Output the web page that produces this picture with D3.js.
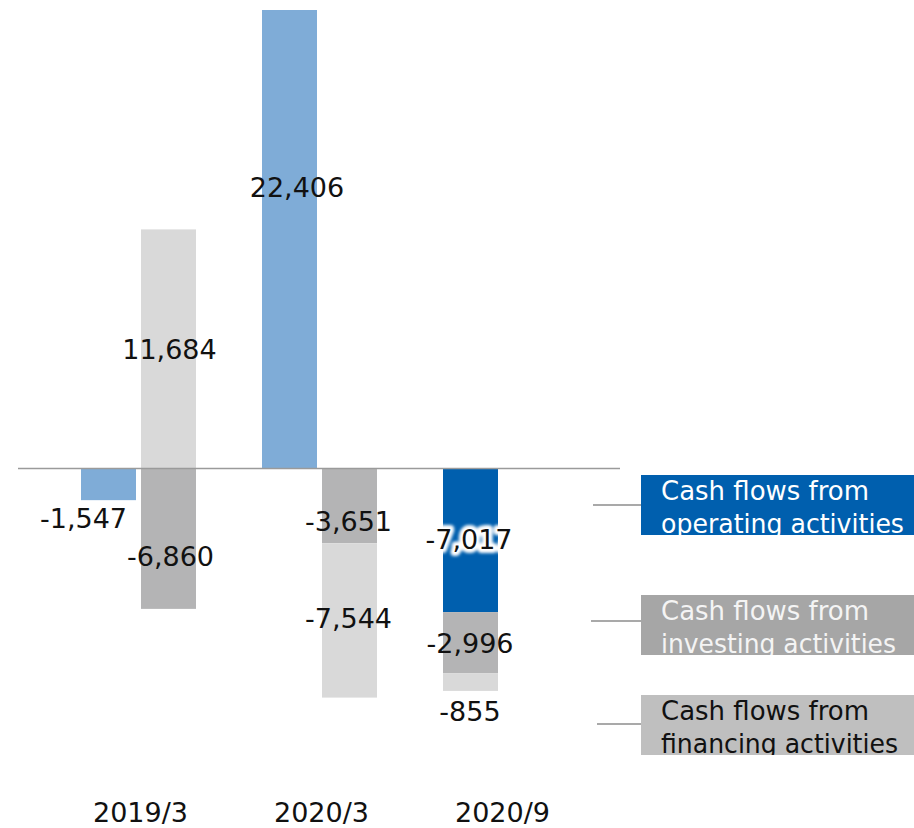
<!DOCTYPE html>
<html>
<head>
<meta charset="utf-8">
<script src="https://cdn.jsdelivr.net/npm/d3@7"></script>
<style>
  html, body { margin: 0; padding: 0; background: #fff; }
  svg { display: block; font-family: "DejaVu Sans", Verdana, sans-serif; }
</style>
</head>
<body>
<svg id="chart" width="914" height="828"></svg>
<script>
// Periods and cash-flow series (millions of yen)
const periods = ["2019/3", "2020/3", "2020/9"];
const operating = [-1547, 22406, -7017];
const investing = [-6860, -3651, -2996];
const financing = [11684, -7544, -855];

const seriesNames = ["Cash flows from operating activities",
                     "Cash flows from investing activities",
                     "Cash flows from financing activities"];
const legendLines = [["Cash flows from", "operating activities"],
                     ["Cash flows from", "investing activities"],
                     ["Cash flows from", "financing activities"]];

// Column each series sits in, per period ("a" = left slot, "b" = right slot)
const slotOperating = ["a", "a", "a"];
const slotInvesting = ["b", "b", "a"];
const slotFinancing = ["b", "b", "a"];

const colors = {
  operating: "#7facd7",
  operatingLatest: "#005fae",
  investing: "#b4b4b5",
  financing: "#d9d9d9",
  legendOperating: "#005fae",
  legendInvesting: "#a6a6a6",
  legendFinancing: "#bfbfbf"
};

const svg = d3.select("#chart");
const defs = svg.append("defs");

// Scales
const y = d3.scaleLinear().domain([0, 22406]).range([468.5, 10]);
const x = d3.scaleBand().domain(periods).range([81, 558]).paddingInner(66 / 181).paddingOuter(0);
const xs = d3.scaleBand().domain(["a", "b"]).range([0, x.bandwidth()]).paddingInner(5 / 60);

// Stack the series inside each column (positives up, negatives down)
const series = [
  { key: "operating", values: operating, slots: slotOperating },
  { key: "investing", values: investing, slots: slotInvesting },
  { key: "financing", values: financing, slots: slotFinancing }
];
const bars = [];
periods.forEach((p, i) => {
  const pos = {}, neg = {};
  series.forEach(s => {
    const slot = s.slots[i];
    const v = s.values[i];
    pos[slot] = pos[slot] || 0; neg[slot] = neg[slot] || 0;
    let y0, y1;
    if (v >= 0) { y0 = pos[slot]; y1 = pos[slot] + v; pos[slot] = y1; }
    else { y0 = neg[slot]; y1 = neg[slot] + v; neg[slot] = y1; }
    bars.push({ period: p, index: i, key: s.key, slot, value: v, y0, y1 });
  });
});

function barColor(d) {
  if (d.key === "operating") return d.index === periods.length - 1 ? colors.operatingLatest : colors.operating;
  return colors[d.key];
}

svg.append("g").selectAll("rect").data(bars).join("rect")
  .attr("x", d => x(d.period) + xs(d.slot))
  .attr("width", xs.bandwidth())
  .attr("y", d => y(Math.max(d.y0, d.y1)))
  .attr("height", d => Math.abs(y(d.y0) - y(d.y1)))
  .attr("fill", barColor);

// Zero line
svg.append("line")
  .attr("x1", 18).attr("x2", 620)
  .attr("y1", y(0)).attr("y2", y(0))
  .attr("stroke", "#9a9a9a").attr("stroke-width", 1.5);

// Value labels: centred on the segment by default, with a few nudges
const nudge = {
  "operating|2019/3": { dx: -25, dy: 34 },
  "investing|2019/3": { dx: 2, dy: 17 },
  "financing|2019/3": { dx: 1, dy: 0 },
  "operating|2020/3": { dx: 7.5, dy: -52 },
  "investing|2020/3": { dx: -1, dy: 15 },
  "financing|2020/3": { dx: -1, dy: -2 },
  "operating|2020/9": { dx: -1.5, dy: -1 },
  "investing|2020/9": { dx: -0.5, dy: 0 },
  "financing|2020/9": { dx: -0.5, dy: 29 }
};
const fmt = d3.formatLocale({ decimal: ".", thousands: ",", grouping: [3], currency: ["", ""], minus: "-" }).format(",");

const halo = defs.append("filter").attr("id", "halo")
  .attr("x", "-20%").attr("y", "-40%").attr("width", "140%").attr("height", "180%");
halo.append("feGaussianBlur").attr("stdDeviation", 1.8);

const labelG = svg.append("g")
  .attr("font-size", 27).attr("text-anchor", "middle").attr("fill", "#111");

bars.forEach(d => {
  const n = nudge[d.key + "|" + d.period] || { dx: 0, dy: 0 };
  const cx = x(d.period) + xs(d.slot) + xs.bandwidth() / 2 + n.dx;
  const cy = (y(d.y0) + y(d.y1)) / 2 + n.dy + 10;
  const txt = fmt(d.value);
  if (d.key === "operating" && d.index === periods.length - 1) {
    labelG.append("text")
      .attr("x", cx).attr("y", cy).text(txt)
      .attr("fill", "#fff").attr("stroke", "#fff")
      .attr("stroke-width", 8).attr("stroke-linejoin", "round")
      .attr("filter", "url(#halo)");
  }
  labelG.append("text").attr("x", cx).attr("y", cy).text(txt);
});

// Period labels
svg.append("g").attr("font-size", 27).attr("text-anchor", "middle").attr("fill", "#111")
  .selectAll("text").data(periods).join("text")
  .attr("x", p => x(p) + x.bandwidth() / 2 + 2)
  .attr("y", 822)
  .text(p => p);

// Legend boxes with leader lines
const legend = [
  { top: 475, lineY: 505, lineX: 593, fill: colors.legendOperating, text: "#ffffff", widths: [208, 243] },
  { top: 595, lineY: 621, lineX: 591, fill: colors.legendInvesting, text: "#f4f4f4", widths: [208, 235] },
  { top: 695, lineY: 724, lineX: 597, fill: colors.legendFinancing, text: "#111111", widths: [208, 237] }
];
legend.forEach((l, i) => {
  const g = svg.append("g").attr("aria-label", seriesNames[i]);
  g.append("line")
    .attr("x1", l.lineX).attr("x2", 641).attr("y1", l.lineY).attr("y2", l.lineY)
    .attr("stroke", "#8c8c8c").attr("stroke-width", 1.5);
  const clipId = "legclip" + i;
  defs.append("clipPath").attr("id", clipId)
    .append("rect").attr("x", 641).attr("y", l.top).attr("width", 273).attr("height", 60);
  g.append("rect")
    .attr("x", 641).attr("y", l.top).attr("width", 273).attr("height", 60)
    .attr("fill", l.fill);
  const t = g.append("g").attr("clip-path", `url(#${clipId})`)
    .attr("font-size", 26.2).attr("fill", l.text);
  legendLines[i].forEach((line, j) => {
    t.append("text").attr("x", 661).attr("y", l.top + 24.5 + j * 33)
      .attr("textLength", l.widths[j]).attr("lengthAdjust", "spacingAndGlyphs")
      .text(line);
  });
});
</script>
</body>
</html>
